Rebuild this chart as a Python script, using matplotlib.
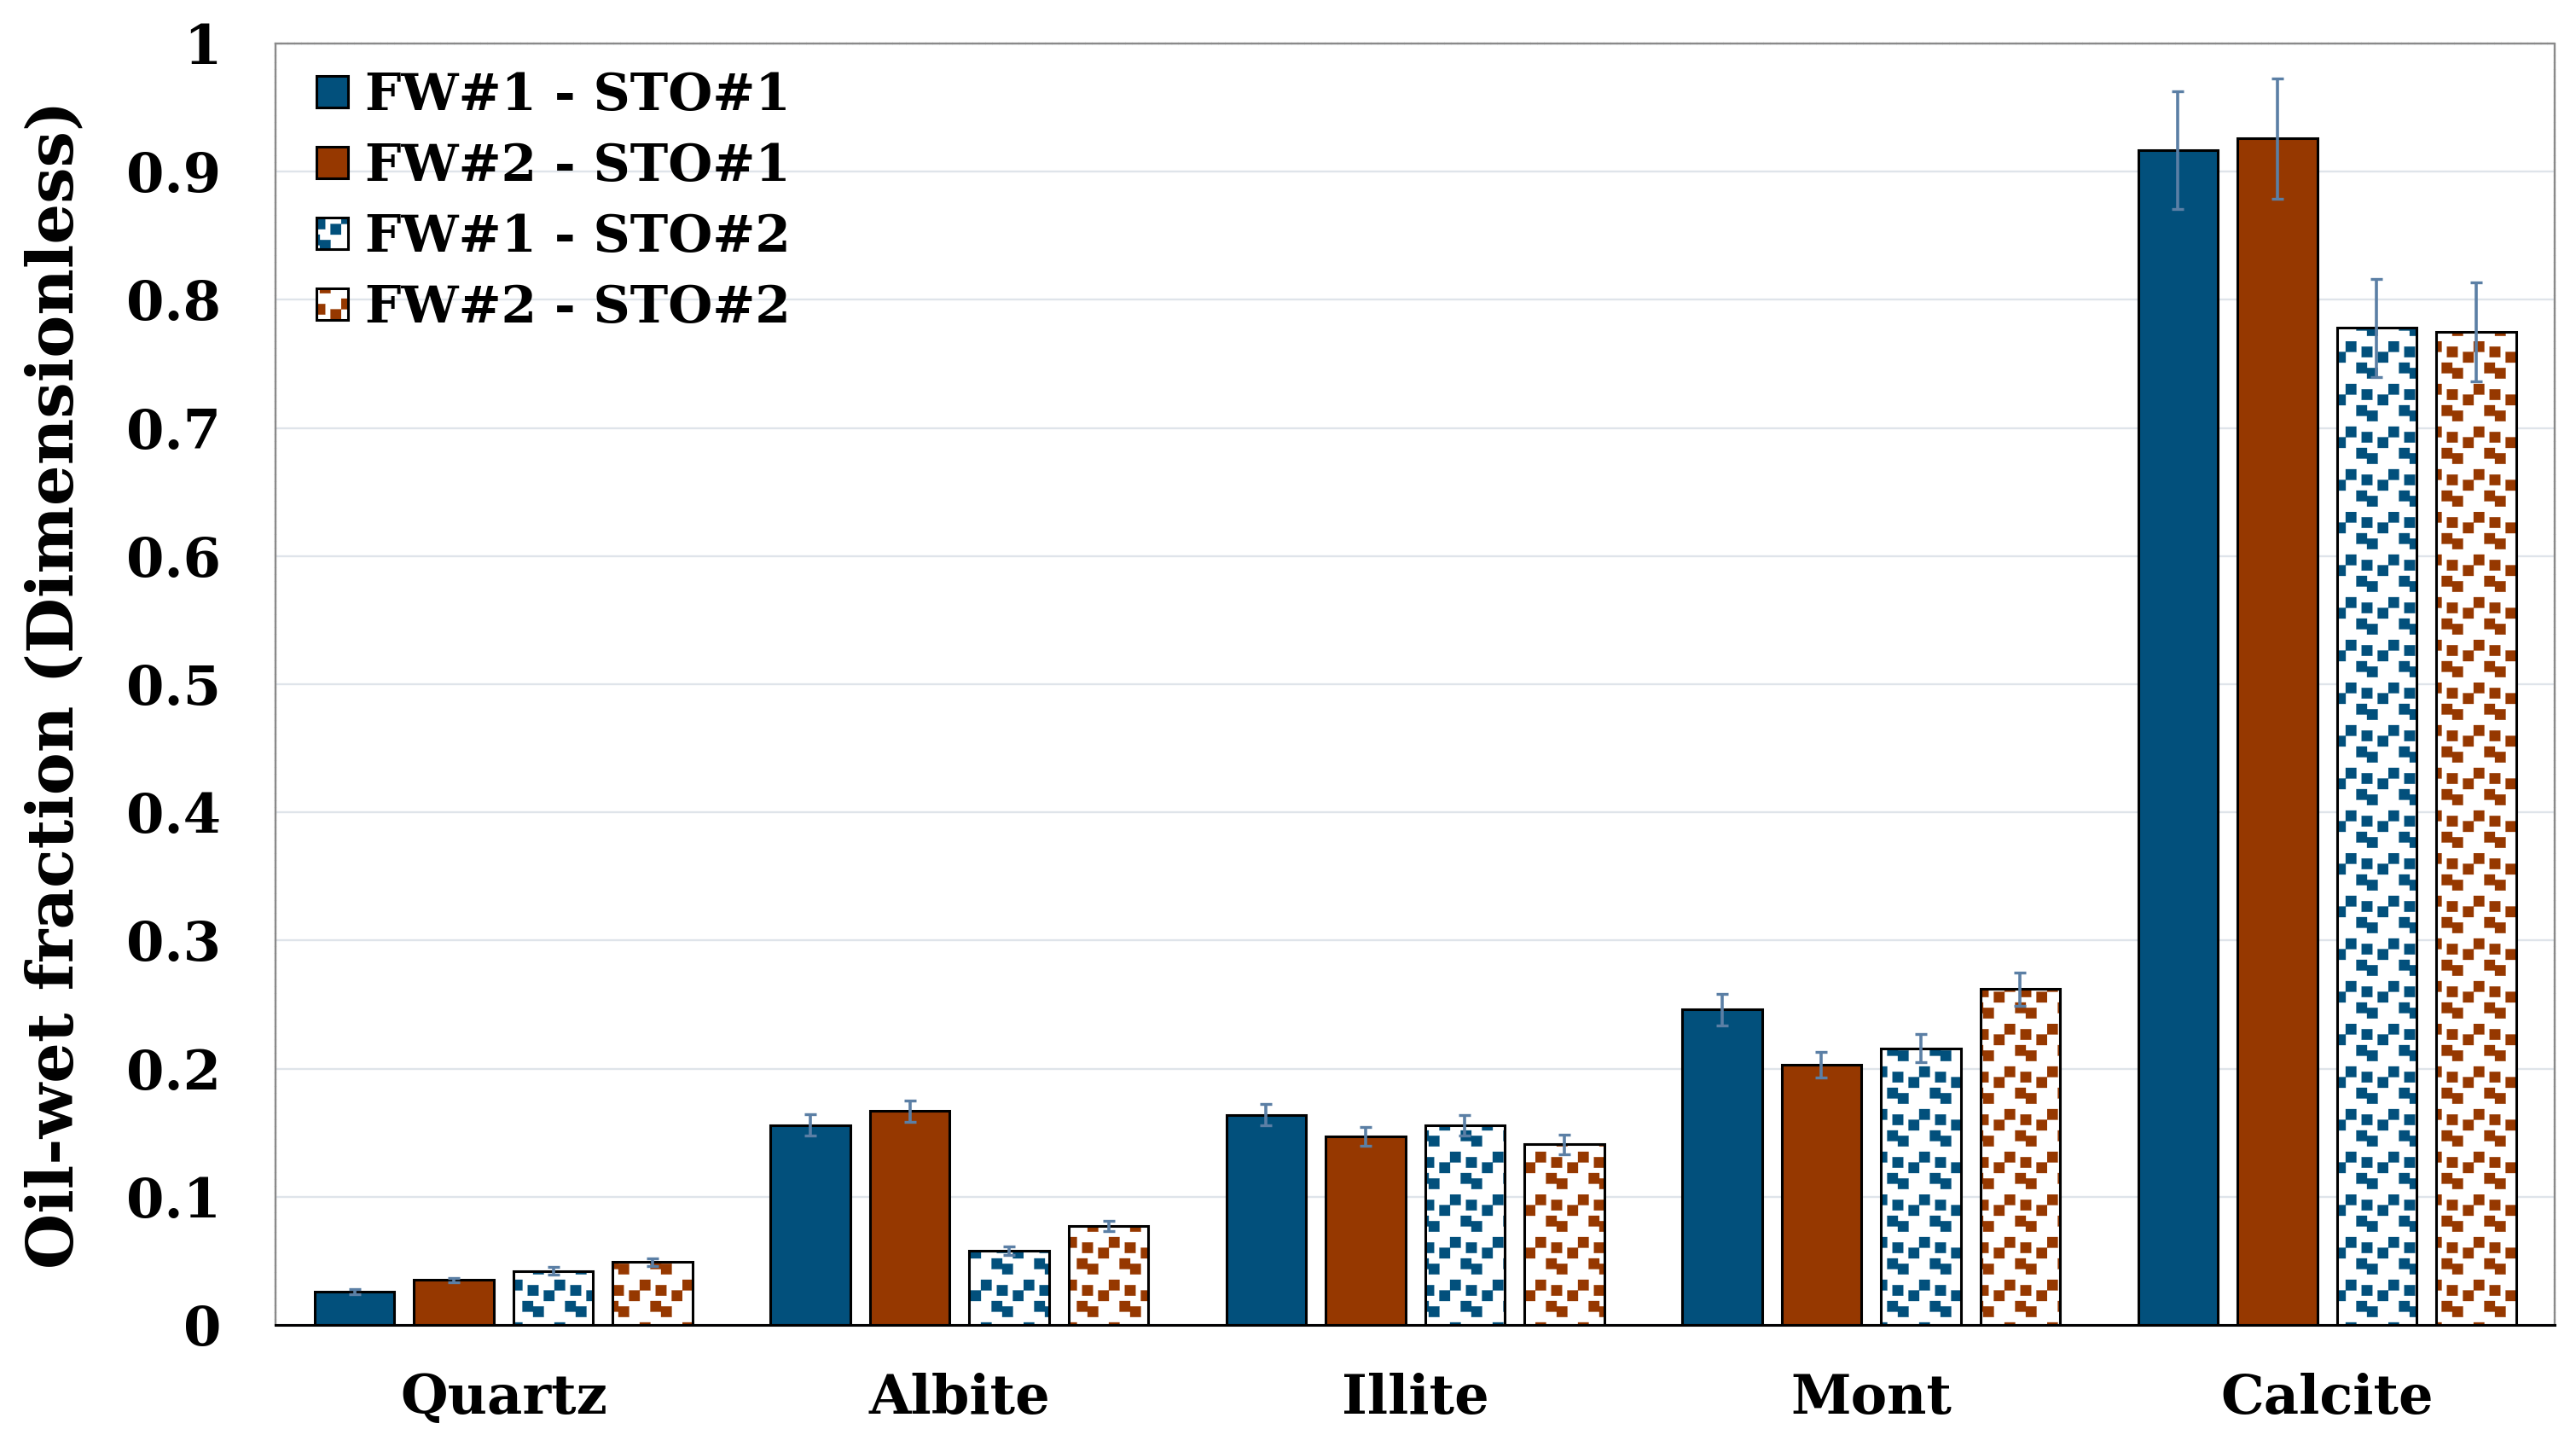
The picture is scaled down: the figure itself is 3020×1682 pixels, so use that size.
import numpy as np
import matplotlib
matplotlib.use('Agg')
import matplotlib.pyplot as plt
import matplotlib.hatch as mhatch
from matplotlib.path import Path
from matplotlib.patches import Patch
from matplotlib.legend_handler import HandlerTuple

### DATA
categories = ['Quartz', 'Albite', 'Illite', 'Mont', 'Calcite']
series_names = ['FW#1 - STO#1', 'FW#2 - STO#1', 'FW#1 - STO#2', 'FW#2 - STO#2']

fw1_sto1 = [0.026, 0.156, 0.164, 0.246, 0.917]
fw2_sto1 = [0.035, 0.167, 0.147, 0.203, 0.926]
fw1_sto2 = [0.042, 0.058, 0.156, 0.216, 0.778]
fw2_sto2 = [0.049, 0.077, 0.141, 0.262, 0.775]

fw1_sto1_err = [0.0022, 0.0083, 0.0082, 0.0124, 0.046]
fw2_sto1_err = [0.0019, 0.0083, 0.0075, 0.0101, 0.047]
fw1_sto2_err = [0.003, 0.0034, 0.0081, 0.0111, 0.0385]
fw2_sto2_err = [0.003, 0.004, 0.0077, 0.0131, 0.0385]

y_ticks = [0, 0.1, 0.2, 0.3, 0.4, 0.5, 0.6, 0.7, 0.8, 0.9, 1]
y_tick_labels = ['0', '0.1', '0.2', '0.3', '0.4', '0.5', '0.6', '0.7', '0.8', '0.9', '1']

values = [fw1_sto1, fw2_sto1, fw1_sto2, fw2_sto2]
errors = [fw1_sto1_err, fw2_sto1_err, fw1_sto2_err, fw2_sto2_err]

### STYLE
BLUE = '#02507c'
BROWN = '#963800'
ERR = '#5b7fa5'
colors = [BLUE, BROWN, BLUE, BROWN]
patterned = [False, False, True, True]


### CONFETTI HATCH (takes the place of the '*' stars pattern)
class Confetti(mhatch.HatchPatternBase):
    # (row, col) of 2x2 blocks in an 8x8 motif
    cells = [(0, 0), (1, 3), (2, 6), (4, 2), (5, 4)]

    def __init__(self, hatch, density):
        self.reps = 4 if hatch.count('*') else 0
        self.num_vertices = self.reps ** 2 * len(self.cells) * 5

    def set_vertices_and_codes(self, vertices, codes):
        step = 1.0 / (self.reps * 8)
        sq = np.array([[0, 0], [2, 0], [2, 2], [0, 2], [0, 0]]) * step
        k = 0
        for i in range(self.reps):
            for j in range(self.reps):
                for r, c in self.cells:
                    vertices[k:k + 5] = sq + [(j * 8 + c) * step, 1 - (i * 8 + r + 2) * step]
                    codes[k:k + 5] = [Path.MOVETO, Path.LINETO, Path.LINETO,
                                      Path.LINETO, Path.CLOSEPOLY]
                    k += 5


mhatch._hatch_types = [t for t in mhatch._hatch_types if t is not mhatch.Stars] + [Confetti]

plt.rcParams['font.family'] = ['DejaVu Serif']
plt.rcParams['font.weight'] = 'bold'
plt.rcParams['hatch.linewidth'] = 0.1

fig = plt.figure(figsize=(15.1, 8.41), dpi=200)
ax = fig.add_axes([0.107, 0.0767, 0.8848, 0.893])

x = np.arange(len(categories))
width = 0.175
step = 0.218

handles = []
for i in range(4):
    pos = x + (i - 1.5) * step
    if patterned[i]:
        ax.bar(pos, values[i], width, color='white', edgecolor=colors[i],
               hatch='*', linewidth=0, zorder=2)
        ax.bar(pos, values[i], width, color='none', edgecolor='black',
               linewidth=1.1, zorder=3)
        h = (Patch(facecolor='white', edgecolor=colors[i], hatch='*', linewidth=0),
             Patch(facecolor='none', edgecolor='black', linewidth=1.1))
    else:
        ax.bar(pos, values[i], width, color=colors[i], edgecolor='black',
               linewidth=1.1, zorder=3)
        h = (Patch(facecolor=colors[i], edgecolor='black', linewidth=1.1),)
    ax.errorbar(pos, values[i], yerr=errors[i], fmt='none', ecolor=ERR,
                elinewidth=1.3, capsize=2.6, capthick=1.2, zorder=4)
    handles.append(h)

ax.set_xlim(-0.5, len(categories) - 0.5)
ax.set_ylim(0, 1)
ax.set_xticks(x)
ax.set_xticklabels(categories, fontsize=23, fontweight='bold')
ax.set_yticks(y_ticks)
ax.set_yticklabels(y_tick_labels, fontsize=23, fontweight='bold')
ax.tick_params(axis='x', length=0, pad=20)
ax.tick_params(axis='y', length=0, pad=23)
ax.set_ylabel('Oil-wet fraction (Dimensionless)', fontsize=27, fontweight='bold')
ax.yaxis.set_label_coords(-0.083, 0.5)

ax.yaxis.grid(True, color='#dfe4ea', linewidth=0.85)
ax.set_axisbelow(True)

for side in ['left', 'top', 'right']:
    ax.spines[side].set_color('#8a8a8a')
    ax.spines[side].set_linewidth(0.85)
    ax.spines[side].set_linestyle((0, (2.5, 0.8)))
ax.spines['bottom'].set_color('black')
ax.spines['bottom'].set_linewidth(1.1)
ax.spines['bottom'].set_zorder(5)

ax.legend(handles, series_names, handler_map={tuple: HandlerTuple(ndivide=1, pad=0)},
          loc='upper left', bbox_to_anchor=(0.018, 0.979), frameon=False,
          prop={'weight': 'bold', 'size': 21.5},
          handlelength=0.62, handleheight=0.59, handletextpad=0.33,
          labelspacing=0.42, borderpad=0, borderaxespad=0)

fig.savefig('out.png', dpi=200, facecolor='white')
